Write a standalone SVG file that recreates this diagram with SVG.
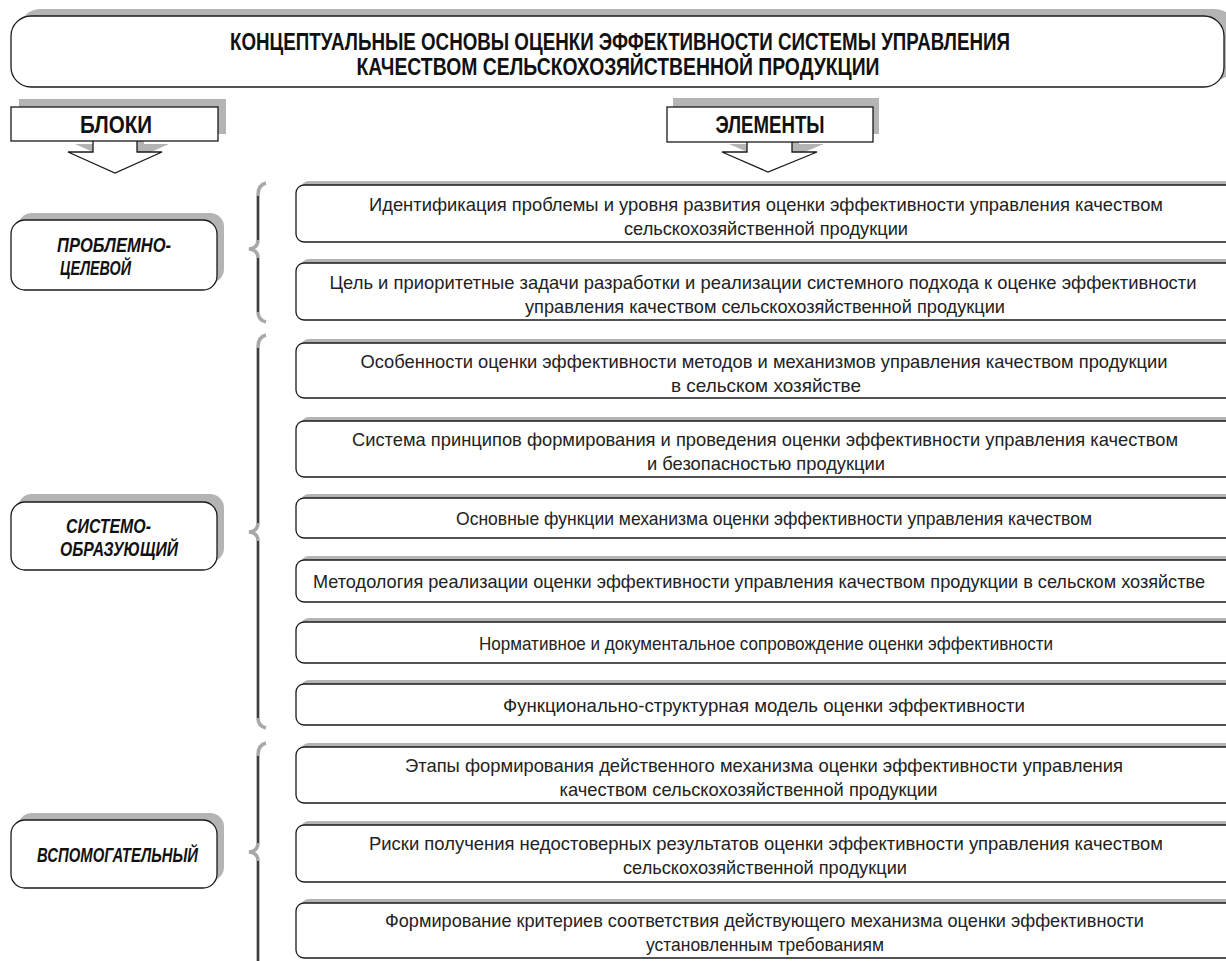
<svg xmlns="http://www.w3.org/2000/svg" width="1226" height="961" viewBox="0 0 1226 961">
<style>
.sh{fill:#b4b4b4;stroke:none}
.bx{fill:#fff;stroke:#1a1a1a;stroke-width:1.3}
.t{font-family:"Liberation Sans",Arial,sans-serif;font-size:19px;fill:#222;text-anchor:middle}
.hd{font-family:"Liberation Sans",Arial,sans-serif;font-size:23px;font-weight:bold;fill:#111;text-anchor:middle}
.bl{font-family:"Liberation Sans",Arial,sans-serif;font-size:20px;font-weight:bold;font-style:italic;fill:#111}
.brg{fill:none;stroke:#a8a8a8;stroke-width:3.5}
.brk{fill:none;stroke:#111;stroke-width:1.4}
</style>
<rect width="1226" height="961" fill="#fff"/>

<g id="title">
<rect class="sh" x="20" y="9" width="1215" height="71" rx="20"/>
<rect class="bx" x="11" y="16" width="1213" height="71" rx="20"/>
<text class="hd" x="620" y="50" textLength="780" lengthAdjust="spacingAndGlyphs">КОНЦЕПТУАЛЬНЫЕ ОСНОВЫ ОЦЕНКИ ЭФФЕКТИВНОСТИ СИСТЕМЫ УПРАВЛЕНИЯ</text>
<text class="hd" x="618" y="75" textLength="523" lengthAdjust="spacingAndGlyphs">КАЧЕСТВОМ СЕЛЬСКОХОЗЯЙСТВЕННОЙ ПРОДУКЦИИ</text>
</g>

<g id="header-blocks">
<polygon class="sh" points="100,131 100,144 75,144 122,165 169,144 144,144 144,131"/>
<polygon class="bx" points="93,139 93,152 68,152 115,173 162,152 137,152 137,139"/>
<rect class="sh" x="19" y="99" width="207" height="35"/>
<rect class="bx" x="11" y="107" width="207" height="34"/>
<text class="hd" x="116" y="132.5" font-size="22" textLength="72" lengthAdjust="spacingAndGlyphs">БЛОКИ</text>
</g>

<g id="header-elements">
<polygon class="sh" points="754,131 754,144 729,144 775,164 824,144 799,144 799,131"/>
<polygon class="bx" points="747,139 747,152 722,152 768,172 817,152 792,152 792,139"/>
<rect class="sh" x="673" y="98" width="206" height="36"/>
<rect class="bx" x="667" y="107" width="206" height="35"/>
<text class="hd" x="770" y="132.5" font-size="22" textLength="109" lengthAdjust="spacingAndGlyphs">ЭЛЕМЕНТЫ</text>
</g>

<g id="block-1">
<rect class="sh" x="18" y="213" width="206" height="70" rx="14"/>
<rect class="bx" x="11" y="220" width="206" height="70" rx="14"/>
<text class="bl" x="57" y="252" textLength="114" lengthAdjust="spacingAndGlyphs">ПРОБЛЕМНО-</text>
<text class="bl" x="60" y="275" textLength="71" lengthAdjust="spacingAndGlyphs">ЦЕЛЕВОЙ</text>
</g>

<g id="block-2">
<rect class="sh" x="18" y="494" width="206" height="68" rx="14"/>
<rect class="bx" x="11" y="502" width="206" height="68" rx="14"/>
<text class="bl" x="66" y="533" textLength="85" lengthAdjust="spacingAndGlyphs">СИСТЕМО-</text>
<text class="bl" x="60" y="556" textLength="118" lengthAdjust="spacingAndGlyphs">ОБРАЗУЮЩИЙ</text>
</g>

<g id="block-3">
<rect class="sh" x="18" y="813" width="206" height="68" rx="14"/>
<rect class="bx" x="11" y="820" width="206" height="68" rx="14"/>
<text class="bl" x="37" y="862" textLength="161" lengthAdjust="spacingAndGlyphs">ВСПОМОГАТЕЛЬНЫЙ</text>
</g>

<g id="connectors">
<path class="brg" d="M266,183 Q258,185 258,195 L258,240 Q258,248 249,249 Q258,250 258,258 L258,312 Q258,320 266,322"/>
<path class="brk" d="M258,196 L258,240 M258,258 L258,312"/>
<path class="brg" d="M266,335 Q258,337 258,347 L258,523 Q258,531 249,532 Q258,533 258,541 L258,718 Q258,726 266,728"/>
<path class="brk" d="M258,348 L258,523 M258,541 L258,718"/>
<path class="brg" d="M266,743 Q258,745 258,755 L258,843 Q258,851 249,852 Q258,853 258,861 L258,970"/>
<path class="brk" d="M258,756 L258,843 M258,861 L258,970"/>
</g>

<g id="el-1">
<rect class="sh" x="301" y="181" width="940" height="57" rx="8"/>
<rect class="bx" x="296" y="185" width="940" height="57" rx="8"/>
<text class="t" x="766" y="210.5" textLength="794" lengthAdjust="spacingAndGlyphs">Идентификация проблемы и уровня развития оценки эффективности управления качеством</text>
<text class="t" x="766" y="234.5" textLength="284" lengthAdjust="spacingAndGlyphs">сельскохозяйственной продукции</text>
</g>
<g id="el-2">
<rect class="sh" x="301" y="259" width="940" height="57" rx="8"/>
<rect class="bx" x="296" y="263" width="940" height="57" rx="8"/>
<text class="t" x="763" y="288.5" textLength="867" lengthAdjust="spacingAndGlyphs">Цель и приоритетные задачи разработки и реализации системного подхода к оценке эффективности</text>
<text class="t" x="765" y="312.5" textLength="480" lengthAdjust="spacingAndGlyphs">управления качеством сельскохозяйственной продукции</text>
</g>
<g id="el-3">
<rect class="sh" x="301" y="339" width="940" height="55" rx="8"/>
<rect class="bx" x="296" y="343" width="940" height="55" rx="8"/>
<text class="t" x="764" y="367.5" textLength="807" lengthAdjust="spacingAndGlyphs">Особенности оценки эффективности методов и механизмов управления качеством продукции</text>
<text class="t" x="766" y="391.5" textLength="190" lengthAdjust="spacingAndGlyphs">в сельском хозяйстве</text>
</g>
<g id="el-4">
<rect class="sh" x="301" y="417" width="940" height="56" rx="8"/>
<rect class="bx" x="296" y="421" width="940" height="56" rx="8"/>
<text class="t" x="765" y="445.5" textLength="826" lengthAdjust="spacingAndGlyphs">Система принципов формирования и проведения оценки эффективности управления качеством</text>
<text class="t" x="766" y="469.5" textLength="238" lengthAdjust="spacingAndGlyphs">и безопасностью продукции</text>
</g>
<g id="el-5">
<rect class="sh" x="301" y="494" width="940" height="40" rx="8"/>
<rect class="bx" x="296" y="498" width="940" height="40" rx="8"/>
<text class="t" x="774" y="525" textLength="636" lengthAdjust="spacingAndGlyphs">Основные функции механизма оценки эффективности управления качеством</text>
</g>
<g id="el-6">
<rect class="sh" x="301" y="556" width="940" height="42" rx="8"/>
<rect class="bx" x="296" y="560" width="940" height="42" rx="8"/>
<text class="t" x="759" y="587.5" font-size="17" textLength="892" lengthAdjust="spacingAndGlyphs">Методология реализации оценки эффективности управления качеством продукции в сельском хозяйстве</text>
</g>
<g id="el-7">
<rect class="sh" x="301" y="618" width="940" height="41" rx="8"/>
<rect class="bx" x="296" y="622" width="940" height="41" rx="8"/>
<text class="t" x="766" y="649.5" textLength="574" lengthAdjust="spacingAndGlyphs">Нормативное и документальное сопровождение оценки эффективности</text>
</g>
<g id="el-8">
<rect class="sh" x="301" y="680" width="940" height="41" rx="8"/>
<rect class="bx" x="296" y="684" width="940" height="41" rx="8"/>
<text class="t" x="764" y="711.5" textLength="522" lengthAdjust="spacingAndGlyphs">Функционально-структурная модель оценки эффективности</text>
</g>
<g id="el-9">
<rect class="sh" x="301" y="743" width="940" height="56" rx="8"/>
<rect class="bx" x="296" y="747" width="940" height="56" rx="8"/>
<text class="t" x="764" y="771.5" textLength="718" lengthAdjust="spacingAndGlyphs">Этапы формирования действенного механизма оценки эффективности управления</text>
<text class="t" x="748.5" y="795.5" textLength="378" lengthAdjust="spacingAndGlyphs">качеством сельскохозяйственной продукции</text>
</g>
<g id="el-10">
<rect class="sh" x="301" y="821" width="940" height="57" rx="8"/>
<rect class="bx" x="296" y="825" width="940" height="57" rx="8"/>
<text class="t" x="766" y="850" textLength="794" lengthAdjust="spacingAndGlyphs">Риски получения недостоверных результатов оценки эффективности управления качеством</text>
<text class="t" x="765" y="874" textLength="284" lengthAdjust="spacingAndGlyphs">сельскохозяйственной продукции</text>
</g>
<g id="el-11">
<rect class="sh" x="301" y="899" width="940" height="55" rx="8"/>
<rect class="bx" x="296" y="903" width="940" height="55" rx="8"/>
<text class="t" x="764.5" y="927" textLength="759" lengthAdjust="spacingAndGlyphs">Формирование критериев соответствия действующего механизма оценки эффективности</text>
<text class="t" x="765" y="951" textLength="238" lengthAdjust="spacingAndGlyphs">установленным требованиям</text>
</g>
</svg>
